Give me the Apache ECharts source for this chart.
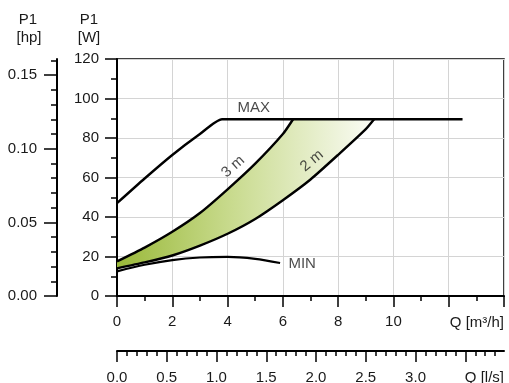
<!DOCTYPE html>
<html>
<head>
<meta charset="utf-8">
<script src="https://cdn.jsdelivr.net/npm/echarts@6/dist/echarts.min.js"></script>
<style>html,body{margin:0;padding:0;background:#fff}#c{width:509px;height:383px}</style>
</head>
<body>
<div id="c"></div>
<script>
// ---- data (Q in m³/h, P1 in W) ----
const qMaxCurve = [0, 1, 2, 3, 3.8, 12.5];
const pMaxCurve = [47, 59.5, 71.4, 82, 89.5, 89.5];
const q3m = [0, 1, 2, 3, 4, 5, 6, 6.37];
const p3m = [17.5, 24.5, 32.5, 42, 54, 67, 82, 89.5];
const q2m = [0, 1, 2, 3, 4, 5, 6, 7, 8, 9, 9.3];
const p2m = [14, 17, 20.5, 25.5, 31.5, 39, 48.5, 59, 71.5, 84.5, 89.5];
const qMin = [0, 1, 2, 3, 4, 5, 5.9];
const pMin = [12.5, 15.8, 18.2, 19.5, 19.8, 18.8, 16.7];
const bandTop = 89.5;
const hpMajor = [0, 0.05, 0.10, 0.15];
const hpMinor = [0.01,0.02,0.03,0.04,0.06,0.07,0.08,0.09,0.11,0.12,0.13,0.14,0.16];
const lsMajor = [0, 0.5, 1.0, 1.5, 2.0, 2.5, 3.0, 3.5];
const lsLabels = [0, 0.5, 1.0, 1.5, 2.0, 2.5, 3.0];
const lsMinor = [0.1,0.2,0.3,0.4,0.6,0.7,0.8,0.9,1.1,1.2,1.3,1.4,1.6,1.7,1.8,1.9,
                 2.1,2.2,2.3,2.4,2.6,2.7,2.8,2.9,3.1,3.2,3.3,3.4,3.6,3.7,3.8];
const W_PER_HP = 745.7;
const QMAX = 14;
const labels = [
  {name: 'MAX', q: 4.95, p: 95.2, rot: 0, align: 'center'},
  {name: 'MIN', q: 6.2, p: 16.2, rot: 0, align: 'left'},
  {name: '3 m', q: 4.2, p: 65.5, rot: 42, align: 'center'},
  {name: '2 m', q: 7.05, p: 68.5, rot: 40, align: 'center'}
];

const FONT = 'Liberation Sans, Arial, sans-serif';
const FS = 15;
const TXT = '#1a1a1a';
const zip = (a, b) => a.map((v, i) => [v, b[i]]);

const chart = echarts.init(document.getElementById('c'), null, {renderer: 'canvas'});

const bandPts = [];
q3m.forEach((q, i) => bandPts.push([q, p3m[i]]));
bandPts.push([q2m[q2m.length - 1], bandTop]);
for (let i = q2m.length - 1; i >= 0; i--) bandPts.push([q2m[i], p2m[i]]);

const axisLineStyle = {color: '#000', width: 2};
const noLine = {show: true, onZero: false, lineStyle: {color: 'rgba(0,0,0,0)', width: 0}};
const tickStyle = {color: '#000', width: 1.5};
const txt = (s, x, y) => ({type: 'text', x: x, y: y,
  style: {text: s, font: FS + 'px ' + FONT, fill: TXT, align: 'center', verticalAlign: 'middle'}});

const option = {
  animation: false,
  textStyle: {fontFamily: FONT},
  grid: {left: 117, top: 59, right: 5, bottom: 87, show: true, borderColor: '#000', borderWidth: 1.5,
         containLabel: false, outerBoundsMode: 'none'},
  graphic: [
    txt('P1', 28, 20), txt('[hp]', 29, 38), txt('P1', 89, 20), txt('[W]', 89, 38),
    {type: 'text', right: 5, top: 315, style: {text: 'Q [m³/h]', font: FS + 'px ' + FONT, fill: TXT}},
    {type: 'text', right: 5, top: 370, style: {text: 'Q [l/s]', font: FS + 'px ' + FONT, fill: TXT}}
  ],
  xAxis: [
    {type: 'value', min: 0, max: QMAX, interval: 2, position: 'bottom',
     axisLine: {show: true, onZero: false, lineStyle: axisLineStyle},
     axisTick: {show: true, length: 11, lineStyle: tickStyle},
     minorTick: {show: true, splitNumber: 2, length: 5, lineStyle: tickStyle},
     axisLabel: {margin: 18, fontSize: FS, color: TXT, fontFamily: FONT,
                 formatter: v => (v <= 10 ? String(v) : '')},
     splitLine: {show: true, lineStyle: {color: '#d4d4d4', width: 1}}},
    {type: 'value', min: 0, max: QMAX / 3.6, position: 'bottom', offset: 55,
     axisLine: {show: true, onZero: false, lineStyle: axisLineStyle},
     axisTick: {show: true, length: 11, lineStyle: tickStyle, customValues: lsMajor},
     axisLabel: {margin: 19, fontSize: FS, color: TXT, fontFamily: FONT, customValues: lsLabels,
                 formatter: v => v.toFixed(1)},
     splitLine: {show: false}},
    {type: 'value', min: 0, max: QMAX / 3.6, position: 'bottom', offset: 55,
     axisLine: noLine,
     axisTick: {show: true, length: 5, lineStyle: tickStyle, customValues: lsMinor},
     axisLabel: {show: false},
     splitLine: {show: false}}
  ],
  yAxis: [
    {type: 'value', min: 0, max: 120, interval: 20, position: 'left',
     axisLine: {show: true, onZero: false, lineStyle: axisLineStyle},
     axisTick: {show: true, length: 12, lineStyle: tickStyle},
     minorTick: {show: true, splitNumber: 2, length: 6, lineStyle: tickStyle},
     axisLabel: {margin: 18, fontSize: FS, color: TXT, fontFamily: FONT},
     splitLine: {show: true, lineStyle: {color: '#d4d4d4', width: 1}}},
    {type: 'value', min: 0, max: 120 / W_PER_HP, position: 'left', offset: 60,
     axisLine: {show: true, onZero: false, lineStyle: axisLineStyle},
     axisTick: {show: true, length: 13, lineStyle: tickStyle, customValues: hpMajor},
     axisLabel: {margin: 20, fontSize: FS, color: TXT, fontFamily: FONT, customValues: hpMajor,
                 formatter: v => v.toFixed(2)},
     splitLine: {show: false}},
    {type: 'value', min: 0, max: 120 / W_PER_HP, position: 'left', offset: 60,
     axisLine: noLine,
     axisTick: {show: true, length: 6, lineStyle: tickStyle, customValues: hpMinor},
     axisLabel: {show: false},
     splitLine: {show: false}}
  ],
  series: [
    {type: 'custom', xAxisIndex: 0, yAxisIndex: 0, z: 1, silent: true,
     data: [[0, 0]],
     renderItem: function (params, api) {
       const pts = bandPts.map(p => api.coord(p));
       return {type: 'polygon', shape: {points: pts},
               style: {fill: new echarts.graphic.LinearGradient(0, 0, 1, 0, [
                 {offset: 0, color: '#9ab93a'},
                 {offset: 0.45, color: '#c9db8f'},
                 {offset: 1, color: '#fbfcf6'}])}};
     }},
    {type: 'line', name: 'MAX', data: zip(qMaxCurve, pMaxCurve), smooth: 0.2,
     symbol: 'none', lineStyle: {color: '#000', width: 2.4}, z: 3},
    {type: 'line', name: '3 m', data: zip(q3m, p3m), smooth: 0.2,
     symbol: 'none', lineStyle: {color: '#000', width: 2.4}, z: 3},
    {type: 'line', name: '2 m', data: zip(q2m, p2m), smooth: 0.2,
     symbol: 'none', lineStyle: {color: '#000', width: 2.4}, z: 3},
    {type: 'line', name: 'MIN', data: zip(qMin, pMin), smooth: 0.3,
     symbol: 'none', lineStyle: {color: '#000', width: 2.2}, z: 3},
    {type: 'scatter', symbolSize: 0, z: 4, silent: true,
     data: labels.map(l => ({value: [l.q, l.p], name: l.name,
        label: {show: true, position: 'inside', formatter: l.name, rotate: l.rot, align: l.align,
                fontSize: FS, color: TXT, fontFamily: FONT}}))}
  ]
};
chart.setOption(option);
</script>
</body>
</html>
